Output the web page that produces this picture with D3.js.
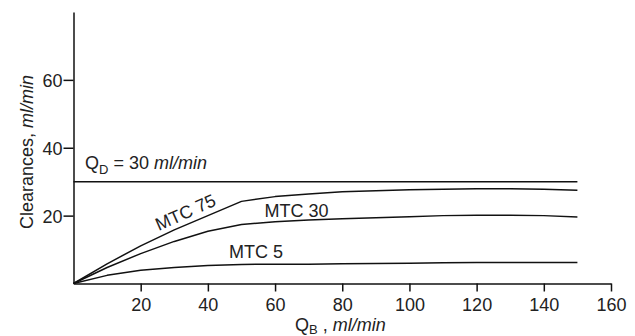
<!DOCTYPE html>
<html><head><meta charset="utf-8">
<script src="https://cdn.jsdelivr.net/npm/d3@7"></script>
<style>
body{margin:0;background:#fff;}
svg{display:block;font-family:"Liberation Sans",Arial,Helvetica,sans-serif;}
</style></head>
<body><svg id="c" width="635" height="336"></svg>
<script>
const qb = [0,10,20,30,40,50,60,70,80,90,100,110,120,130,140,150];
const mtc75 = [0,5.8,11.1,15.8,20.0,24.2,25.6,26.4,27.0,27.3,27.6,27.8,27.9,27.9,27.8,27.5];
const mtc30 = [0,4.7,8.8,12.4,15.4,17.4,18.2,18.7,19.1,19.4,19.7,20.0,20.1,20.1,20.0,19.6];
const mtc5  = [0,2.4,3.9,4.7,5.3,5.6,5.7,5.7,5.8,5.9,6.0,6.1,6.2,6.2,6.2,6.2];
const qdX = [0,150];
const qdY = [30,30];
const xTicks = [20,40,60,80,100,120,140,160];
const yTicks = [20,40,60];

const svg = d3.select("#c");
const x = d3.scaleLinear().domain([0,160]).range([73.5,611]);
const y = d3.scaleLinear().domain([0,80]).range([283.5,12]);

const fs = 18;
const xa = svg.append("g").attr("transform",`translate(0,${y(0)})`)
  .call(d3.axisBottom(x).tickValues(xTicks).tickSize(8).tickPadding(7).tickSizeOuter(0));
const ya = svg.append("g").attr("transform",`translate(${x(0)},0)`)
  .call(d3.axisLeft(y).tickValues(yTicks).tickSize(10).tickPadding(1).tickSizeOuter(0));
[xa,ya].forEach(a=>{
  a.selectAll("path").attr("stroke","#111").attr("stroke-width",1.5);
  a.selectAll("line").attr("stroke","#111").attr("stroke-width",1.5);
  a.selectAll("text").attr("font-size",fs).attr("fill","#222").attr("font-family",null);
});
ya.selectAll("text").attr("dy","0.36em");

const line = d3.line().x(d=>x(d[0])).y(d=>y(d[1]));
const series = [mtc75, mtc30, mtc5].map(s=>qb.map((q,i)=>[q,s[i]]));
series.push(qdX.map((q,i)=>[q,qdY[i]]));
svg.selectAll("path.s").data(series).enter().append("path")
  .attr("class","s").attr("d",line).attr("fill","none")
  .attr("stroke","#111").attr("stroke-width",1.5).attr("stroke-linejoin","round");

const lab = svg.append("g").attr("font-size",fs).attr("fill","#222");
lab.append("text").attr("transform","translate(188,218) rotate(-24)")
  .attr("text-anchor","middle").text("MTC 75");
lab.append("text").attr("x",296.5).attr("y",216.7).attr("text-anchor","middle").text("MTC 30");
lab.append("text").attr("x",256).attr("y",258.3).attr("text-anchor","middle").text("MTC 5");

const qd = lab.append("text").attr("x",85).attr("y",169);
qd.append("tspan").text("Q");
qd.append("tspan").attr("font-size",13).attr("dy",5).text("D");
qd.append("tspan").attr("dy",-5).text(" = 30 ");
qd.append("tspan").attr("font-style","italic").text("ml/min");

const xt = lab.append("text").attr("x",295).attr("y",330.5);
xt.append("tspan").text("Q");
xt.append("tspan").attr("font-size",13).attr("dy",3.5).text("B");
xt.append("tspan").attr("dy",-3.5).text(" , ");
xt.append("tspan").attr("font-style","italic").text("ml/min");

const yt = lab.append("text").attr("transform","translate(33,152) rotate(-90)").attr("text-anchor","middle");
yt.append("tspan").text("Clearances, ");
yt.append("tspan").attr("font-style","italic").text("ml/min");
</script></body></html>
